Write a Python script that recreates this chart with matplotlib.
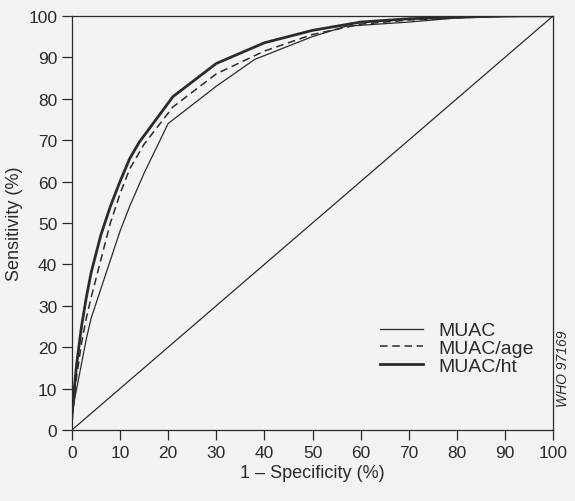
# ROC curves: MUAC, MUAC/age, MUAC/ht
import matplotlib.pyplot as plt

plt.rcParams['font.family'] = ['Liberation Sans', 'DejaVu Sans']

# Valores
muac_x = [0, 0.5, 1, 2, 3, 4, 6, 8, 10, 12, 15, 20, 30, 38, 50, 57, 70, 80, 90, 100]
muac_y = [3, 7, 10, 16, 22, 27, 34, 41, 48, 54, 62, 74, 83, 89.5, 95, 97.5, 98.5, 99.5, 99.8, 100]

age_x = [0, 0.5, 1, 2, 3, 4, 6, 8, 10, 12, 15, 21, 30, 40, 50, 60, 70, 80, 90, 100]
age_y = [3, 8, 13, 21, 27, 32, 41, 50, 57, 63, 69, 78, 86, 91.5, 95.5, 98, 99, 99.5, 100, 100]

ht_x = [0, 0.5, 1, 2, 3, 4, 6, 8, 10, 12, 14, 21, 30, 40, 50, 60, 70, 80, 90, 100]
ht_y = [3, 10, 16, 25, 32, 38, 47, 54, 60, 65.5, 69.5, 80.5, 88.5, 93.5, 96.5, 98.5, 99.3, 99.7, 100, 100]

ticks = list(range(0, 101, 10))
bg = '#f3f3f1'
ink = '#2b2b2b'

fig = plt.figure(figsize=(5.75, 5.02), dpi=100, facecolor=bg)
ax = fig.add_axes([0.125, 0.1414, 0.837, 0.825], facecolor=bg)

ax.plot([0, 100], [0, 100], color=ink, lw=0.9)
ax.plot(muac_x, muac_y, color=ink, lw=0.9, label='MUAC')
ax.plot(age_x, age_y, color=ink, lw=1.1, ls=(0, (5, 3)), label='MUAC/age')
ax.plot(ht_x, ht_y, color=ink, lw=2.0, label='MUAC/ht')

ax.set_xlim(0, 100)
ax.set_ylim(0, 100)
ax.set_xticks(ticks)
ax.set_yticks(ticks)
ax.tick_params(direction='out', length=7, width=0.9, color=ink, labelsize=12.5, labelcolor=ink)
for s in ax.spines.values():
    s.set_color(ink)
    s.set_linewidth(0.9)

ax.set_xlabel('1 – Specificity (%)', fontsize=13, color=ink, labelpad=3)
ax.set_ylabel('Sensitivity (%)', fontsize=13, color=ink, labelpad=4)

ax.legend(loc='upper left', bbox_to_anchor=(0.62, 0.285), frameon=False,
          fontsize=14, handlelength=2.2, handletextpad=0.8, labelspacing=0.0,
          labelcolor=ink, borderpad=0)

fig.text(0.979, 0.265, 'WHO 97169', rotation=90, style='italic', fontsize=10,
         color=ink, ha='center', va='center')

plt.savefig('out.png', dpi=100, facecolor=bg)
